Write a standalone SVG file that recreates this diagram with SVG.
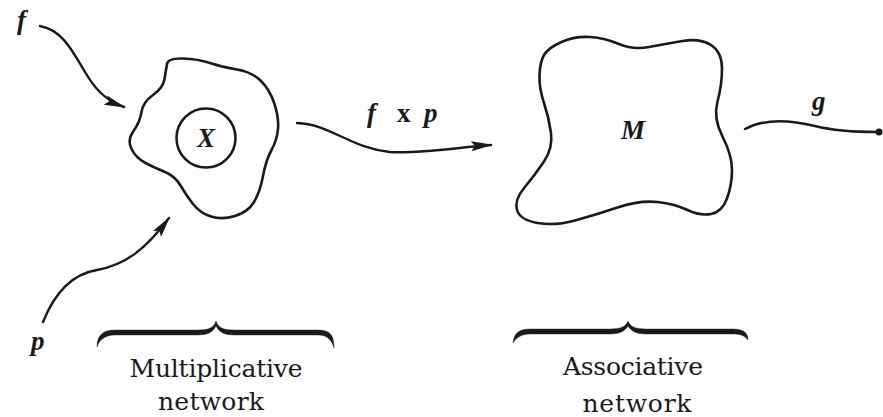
<svg xmlns="http://www.w3.org/2000/svg" width="883" height="417" viewBox="0 0 883 417">
<defs>
<style>
.shape{fill:none;stroke:#1a1a1a;stroke-width:2.6;stroke-linejoin:round;stroke-linecap:round}
.conn{fill:none;stroke:#1a1a1a;stroke-width:2.4;stroke-linecap:round}
.brace{fill:#1a1a1a;stroke:#1a1a1a;stroke-width:0.4}
.var{font-family:"Liberation Serif","Times New Roman",serif;font-style:italic;font-weight:bold;font-size:27px;fill:#1a1a1a}
.rom{font-family:"Liberation Serif","Times New Roman",serif;font-weight:bold;font-size:27px;fill:#1a1a1a}
.cap{font-family:"DejaVu Serif","Liberation Serif",serif;font-size:25px;fill:#1a1a1a;text-anchor:middle}
</style>
<marker id="arr" viewBox="0 0 22 10" refX="20" refY="5" markerWidth="22" markerHeight="10" markerUnits="userSpaceOnUse" orient="auto">
<path d="M0,0 L22,5 L0,10 L4,5 Z" fill="#1a1a1a"/>
</marker>
</defs>

<g id="multiplicative-node">
<path class="shape" d="M 167,64 Q 168,58 183,58.5 Q 198,59 210,63 Q 222,67 237,69.5 Q 252,72 261,81 Q 270,90 274.5,104 Q 279,118 278,129 Q 277,140 271.5,150 Q 266,160 263,176 Q 260,192 254,202 Q 248,212 235,216 Q 222,220 211,216.5 Q 200,213 193,204 Q 186,195 180.5,185.5 Q 175,176 165,172 Q 155,168 145.5,163 Q 136,158 131.5,149 Q 127,140 133.5,131 Q 140,122 141.5,112 Q 143,102 153,95 Q 163,88 164.5,79 Q 166,70 167,64 Z"/>
<circle class="shape" cx="206" cy="138" r="29.5" stroke-width="2"/>
<text class="var" x="206" y="147" text-anchor="middle">X</text>
</g>

<g id="associative-node">
<path class="shape" d="M 544,55 Q 548,48 561.5,42 Q 575,36 590,37 Q 605,38 619,44 Q 633,50 649,47 Q 665,44 682.5,41 Q 700,38 711,45 Q 722,52 722,68.5 Q 722,85 717.5,101.5 Q 713,118 722.5,136.5 Q 732,155 732,170 Q 732,185 727,198.5 Q 722,212 711,214 Q 700,216 687.5,210 Q 675,204 657.5,202 Q 640,200 617.5,207.5 Q 595,215 575,220.5 Q 555,226 537.5,223 Q 520,220 517,210 Q 514,200 524.5,187.5 Q 535,175 544,161.5 Q 553,148 551,133 Q 549,118 544,103 Q 539,88 539.5,75 Q 540,62 544,55 Z"/>
<text class="var" x="633" y="139" text-anchor="middle">M</text>
</g>

<g id="connectors">
<path class="conn" d="M 40,26 C 62,30 72,50 85,72 C 95,89 105,100 124,107" marker-end="url(#arr)"/>
<path class="conn" d="M 43,322 C 55,292 72,274 97,270 C 125,265 145,250 169,218" marker-end="url(#arr)"/>
<path class="conn" d="M 297,123 C 330,124 350,148 390,152 C 420,154 460,147 491,145" marker-end="url(#arr)"/>
<path class="conn" d="M 745,129 C 765,118 790,120 815,126 C 835,131 860,132 877,132"/>
<circle cx="879" cy="132" r="3.5" fill="#1a1a1a"/>
</g>

<g id="labels">
<text class="var" x="17" y="29">f</text>
<text class="var" x="31" y="350">p</text>
<text class="var" x="367" y="122">f</text>
<text class="rom" x="397" y="122">x</text>
<text class="var" x="424" y="122">p</text>
<text class="var" x="812" y="110">g</text>
</g>

<g id="brace-multiplicative">
<path class="brace" d="M 97,347 C 97,336 102,330 115,330 L 198,330 C 210,330 214,327 216,321 C 218,327 222,330 234,330 L 318,330 C 331,330 334,336 334,348 C 332,341 328,335 318,335 L 234,335 C 224,335 219,332 216,326 C 213,332 208,335 198,335 L 115,335 C 105,335 99,340 97,347 Z"/>
<text class="cap" x="216" y="377" textLength="173" lengthAdjust="spacing">Multiplicative</text>
<text class="cap" x="211" y="410" textLength="106" lengthAdjust="spacing">network</text>
</g>

<g id="brace-associative">
<path class="brace" d="M 513,343 C 514,333 519,329 530,329 L 610,329 C 622,329 626,326 628,321 C 630,326 634,329 646,329 L 733,329 C 744,329 748,333 748,340 C 745,336 741,334 733,334 L 646,334 C 636,334 631,331 628,326 C 625,331 620,334 610,334 L 530,334 C 521,334 516,338 513,343 Z"/>
<text class="cap" x="633" y="375" textLength="140" lengthAdjust="spacing">Associative</text>
<text class="cap" x="637" y="412" textLength="109" lengthAdjust="spacing">network</text>
</g>
</svg>
